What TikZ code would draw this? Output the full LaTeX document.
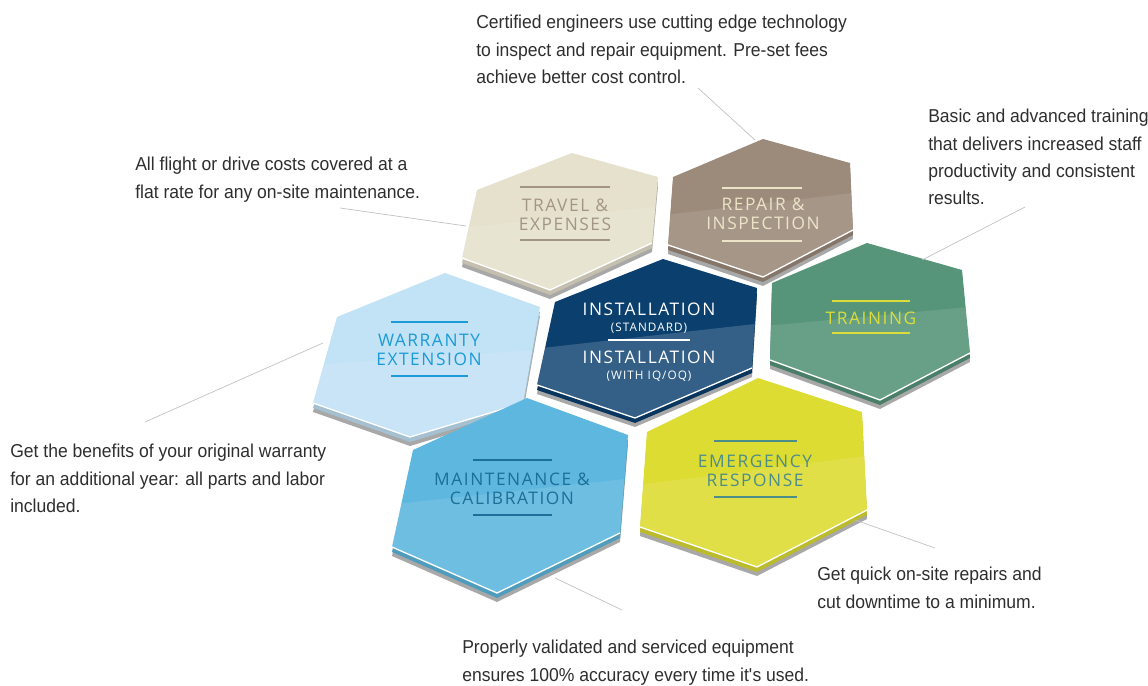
\documentclass[tikz,border=0pt]{standalone}
\usepackage{fontspec}
\setmainfont{Liberation Sans}[FakeStretch=0.94]
\newfontfamily\hexfont{Open Sans}[LetterSpace=9]
\usetikzlibrary{calc}
\definecolor{travc}{HTML}{E6E1CD}
\definecolor{travt}{HTML}{A39584}
\definecolor{repc}{HTML}{9C8B7B}
\definecolor{rept}{HTML}{EDE4C8}
\definecolor{instc}{HTML}{0B3F6E}
\definecolor{trainc}{HTML}{56957A}
\definecolor{traint}{HTML}{D9DC3A}
\definecolor{warrc}{HTML}{C2E2F5}
\definecolor{warrt}{HTML}{1B9BD7}
\definecolor{maintc}{HTML}{5EB7DF}
\definecolor{maintt}{HTML}{1B6F98}
\definecolor{emerc}{HTML}{DDDC33}
\definecolor{emert}{HTML}{4C8D89}
\begin{document}
\begin{tikzpicture}[x=0.75pt,y=-0.75pt,
  note/.style={anchor=north west,align=left,inner sep=0pt,text=black!82,font=\fontsize{14}{20.5}\selectfont},
  hexlab/.style={align=center,inner sep=0pt,font=\hexfont\fontsize{13}{14.6}\selectfont},
  leader/.style={draw=black!25,line width=0.5pt},
  rule/.style={line width=0.9pt}]
\useasboundingbox (0,0) rectangle (1148,685);
%
\foreach \c/\o/\A/\B/\C/\D/\E/\F in {
  travc/0.1/{572,153}/{658,177}/{652,243}/{550,290}/{462,258}/{477,190},
  repc/0.1/{763,139}/{850,163}/{853,230}/{763,277}/{668,245}/{673,177},
  warrc/0.1/{445,273}/{540,307}/{523,403}/{410,437}/{313,403}/{337,317},
  instc/0.17/{663,259}/{757,288}/{752,368}/{635,418}/{537,385}/{555,302},
  trainc/0.1/{867,243}/{962,270}/{970,353}/{880,400}/{770,360}/{772,283},
  maintc/0.1/{527,398}/{628,435}/{620,533}/{497,593}/{392,547}/{413,450},
  emerc/0.1/{758,378}/{862,412}/{867,510}/{757,567}/{640,527}/{647,432}}{
  \fill[gray!68,shift={(0,9)}](\A)--(\B)--(\C)--(\D)--(\E)--(\F)--cycle;
  \fill[\c!85!black,shift={(0,5)}](\A)--(\B)--(\C)--(\D)--(\E)--(\F)--cycle;
  \fill[\c](\A)--(\B)--(\C)--(\D)--(\E)--(\F)--cycle;
  \fill[white,opacity=\o]($(\F)!0.55!(\E)$)--($(\B)!0.45!(\C)$)--(\C)--(\D)--(\E)--cycle;
  \draw[white,line width=1pt](\E)--(\D)--(\C);
}
%
\node[hexlab,text=travt](trav) at (565,215){TRAVEL \&\\EXPENSES};
\draw[rule,travt](520,187)--(610,187) (520,240)--(610,240);
\node[hexlab,text=rept](rep) at (763,214){REPAIR \&\\INSPECTION};
\draw[rule,rept](722,188)--(802,188) (722,241)--(802,241);
\node[hexlab,text=white](inst) at (649,318){INSTALLATION\\[-3pt]{\fontsize{8.8}{10}\selectfont(STANDARD)}};
\draw[rule,white](608,340)--(690,340);
\node[hexlab,text=white](iqoq) at (649,366){INSTALLATION\\[-3pt]{\fontsize{8.8}{10}\selectfont(WITH IQ/OQ)}};
\node[hexlab,text=traint](train) at (871,318){TRAINING};
\draw[rule,traint](832,301)--(910,301) (832,333)--(910,333);
\node[hexlab,text=warrt](warr) at (429,350){WARRANTY\\EXTENSION};
\draw[rule,warrt](391,322)--(468,322) (391,376)--(468,376);
\node[hexlab,text=maintt](maint) at (512,489){MAINTENANCE \&\\CALIBRATION};
\draw[rule,maintt](473,460)--(552,460) (473,515)--(552,515);
\node[hexlab,text=emert](emer) at (755,471){EMERGENCY\\RESPONSE};
\draw[rule,emert](714,441)--(797,441) (714,497)--(797,497);
%
\node[note](repn) at (476,15){Certified engineers use cutting edge technology\\to inspect and repair equipment. Pre-set fees\\achieve better cost control.};
\node[note](travn) at (135,157){All flight or drive costs covered at a\\flat rate for any on-site maintenance.};
\node[note](trainn) at (928,109){Basic and advanced training\\that delivers increased staff\\productivity and consistent\\results.};
\node[note](warrn) at (10,444){Get the benefits of your original warranty\\for an additional year: all parts and labor\\included.};
\node[note](emern) at (817,567){Get quick on-site repairs and\\cut downtime to a minimum.};
\node[note](maintn) at (462,640){Properly validated and serviced equipment\\ensures 100\% accuracy every time it\textquotesingle s used.};
%
\coordinate (r1) at (698,88); \coordinate (r2) at (755,140);
\coordinate (t1) at (340,208); \coordinate (t2) at (466,226);
\coordinate (g1) at (1025,207); \coordinate (g2) at (922,260);
\coordinate (w1) at (145,422); \coordinate (w2) at (323,343);
\coordinate (e1) at (855,520); \coordinate (e2) at (935,548);
\coordinate (m1) at (555,578); \coordinate (m2) at (622,610);
\foreach \a/\b in {r1/r2,t1/t2,g1/g2,w1/w2,e1/e2,m1/m2}{\draw[leader](\a)--(\b);}
\end{tikzpicture}
\end{document}
